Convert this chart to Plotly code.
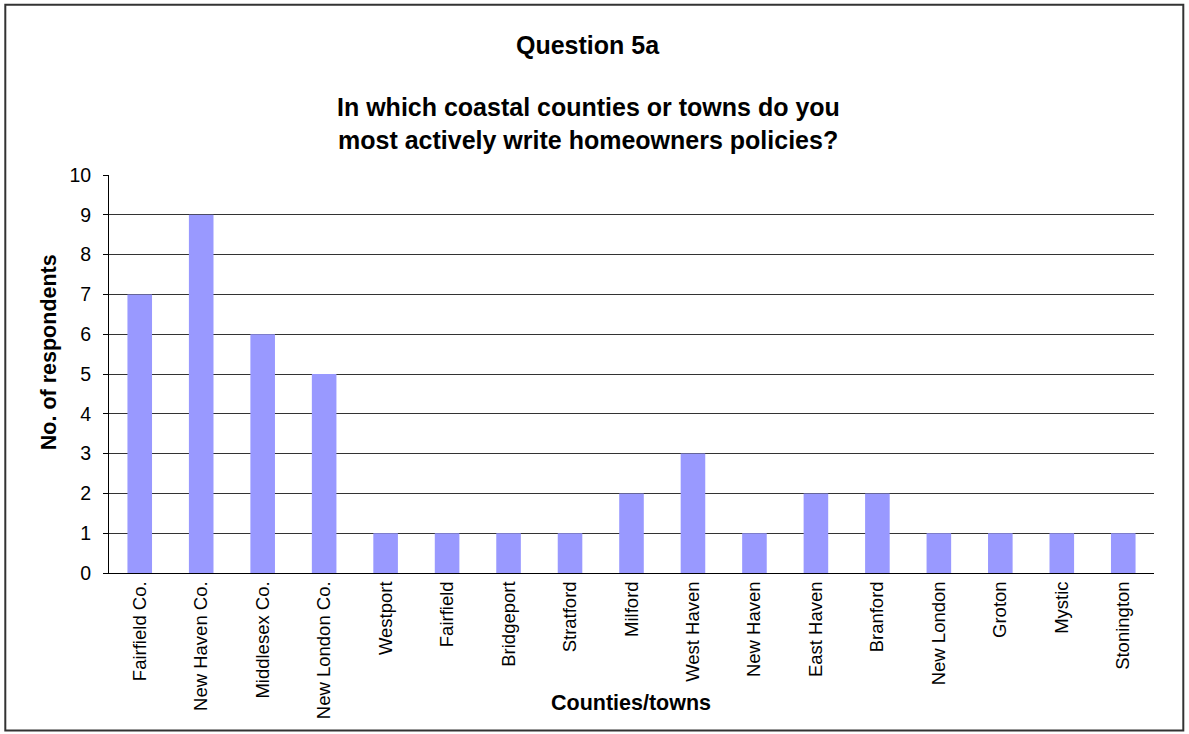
import plotly.graph_objects as go

categories = ["Fairfield Co.", "New Haven Co.", "Middlesex Co.", "New London Co.",
              "Westport", "Fairfield", "Bridgeport", "Stratford", "Milford",
              "West Haven", "New Haven", "East Haven", "Branford", "New London",
              "Groton", "Mystic", "Stonington"]
respondents = [7, 9, 6, 5, 1, 1, 1, 1, 2, 3, 1, 2, 2, 1, 1, 1, 1]
y_ticks = list(range(0, 11))

W, H = 1189, 734
L, R, T, B = 108.7, 35.3, 175, 160.7
pw, ph = W - L - R, H - T - B


def px_x(x):
    return (x - L) / pw


def px_y(y):
    return (H - B - y) / ph


FONT = "Liberation Sans, Arial, sans-serif"

fig = go.Figure(go.Bar(
    x=list(range(len(categories))),
    y=respondents,
    marker=dict(color="#9999FF", line=dict(width=0)),
    width=0.4,
))

fig.update_layout(
    width=W, height=H,
    margin=dict(l=L, r=R, t=T, b=B, autoexpand=False),
    paper_bgcolor="white", plot_bgcolor="white",
    showlegend=False,
    font=dict(family=FONT, color="black", size=16),
)

fig.update_xaxes(
    range=[-0.5, len(categories) - 0.5],
    tickmode="array",
    tickvals=list(range(len(categories))),
    ticktext=categories,
    tickangle=-90,
    tickfont=dict(size=18.5, family=FONT),
    showgrid=False, zeroline=False,
    showline=True, linecolor="black", linewidth=1,
    ticks="",
)

# category separator ticks along the bottom axis
fig.add_trace(go.Scatter(
    x=[v for i in range(len(categories) + 1) for v in (i - 0.5, i - 0.5, None)],
    y=[v for i in range(len(categories) + 1) for v in (0, -0.14, None)],
    mode="lines", line=dict(color="black", width=1),
    hoverinfo="skip", cliponaxis=False,
))

fig.update_yaxes(
    range=[0, 10],
    tickmode="array", tickvals=y_ticks,
    ticks="outside", ticklen=5, tickcolor="black",
    tickfont=dict(size=19.5, family=FONT),
    ticklabelstandoff=8,
    showgrid=True, gridcolor="#333333", gridwidth=1,
    zeroline=False,
    showline=True, linecolor="black", linewidth=1,
)

ann = []
ann.append(dict(text="<b>Question 5a</b>", x=px_x(588), y=px_y(45)))
ann.append(dict(text="<b>In which coastal counties or towns do you</b>", x=px_x(588), y=px_y(107)))
ann.append(dict(text="<b>most actively write homeowners policies?</b>", x=px_x(588), y=px_y(140)))
for a in ann:
    a.update(xref="paper", yref="paper", showarrow=False, xanchor="center", yanchor="middle",
             font=dict(size=25, family=FONT, color="black"))
ann.append(dict(text="<b>Counties/towns</b>", x=px_x(631), y=px_y(703), xref="paper", yref="paper",
                showarrow=False, xanchor="center", yanchor="middle",
                font=dict(size=21.5, family=FONT, color="black")))
ann.append(dict(text="<b>No. of respondents</b>", x=px_x(49), y=px_y(352), xref="paper", yref="paper",
                showarrow=False, xanchor="center", yanchor="middle", textangle=-90,
                font=dict(size=21.5, family=FONT, color="black")))
fig.update_layout(annotations=ann)

# outer chart frame
fig.add_shape(type="rect", xref="paper", yref="paper",
              x0=px_x(5), x1=px_x(1183), y0=px_y(731), y1=px_y(4.5),
              line=dict(color="#333333", width=2), fillcolor="rgba(0,0,0,0)", layer="above")

fig.write_html("out.html")
